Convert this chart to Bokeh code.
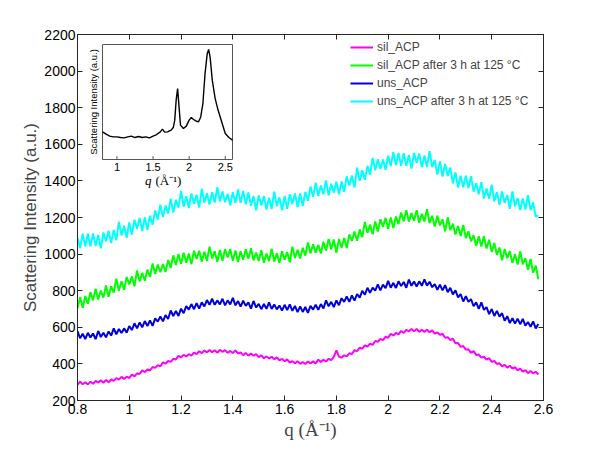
import numpy as np
from bokeh.plotting import figure
from bokeh.models import (Range1d, LinearAxis, FixedTicker, NumeralTickFormatter,
                          Legend, LegendItem, ColumnDataSource)
from bokeh.core.properties import value
from bokeh.embed import file_html
from bokeh.resources import INLINE

# ---------------- data ----------------
q_start = 0.80
q_step = 0.01

sil_acp = [
    285, 303, 289, 300, 288, 303, 291, 307, 298, 310,
    297, 312, 300, 315, 307, 322, 314, 329, 318, 330,
    323, 341, 332, 348, 345, 365, 355, 370, 364, 383,
    378, 393, 386, 409, 401, 416, 411, 428, 424, 444,
    436, 449, 441, 453, 445, 461, 453, 469, 459, 473,
    463, 476, 464, 474, 461, 477, 466, 475, 460, 471,
    459, 474, 457, 463, 448, 460, 445, 457, 445, 453,
    437, 447, 431, 441, 429, 439, 426, 436, 420, 427,
    415, 425, 407, 415, 403, 415, 400, 410, 399, 413,
    403, 414, 403, 423, 411, 422, 413, 428, 420, 438,
    474, 440, 434, 447, 441, 458, 454, 475, 470, 489,
    483, 501, 495, 511, 504, 525, 521, 537, 530, 548,
    543, 565, 555, 569, 561, 580, 569, 586, 578, 591,
    579, 591, 575, 587, 575, 587, 573, 583, 565, 572,
    559, 565, 543, 546, 530, 538, 513, 514, 493, 498,
    478, 480, 460, 470, 449, 451, 434, 439, 423, 431,
    411, 416, 400, 403, 387, 395, 380, 390, 374, 382,
    365, 374, 358, 366, 349, 361, 349, 357, 342,
]

sil_acp_heated = [
    704, 765, 707, 770, 729, 792, 747, 811, 752, 801,
    762, 828, 767, 824, 790, 865, 800, 852, 805, 875,
    834, 878, 824, 911, 852, 898, 854, 915, 875, 949,
    892, 943, 901, 946, 902, 967, 925, 993, 940, 1000,
    947, 1007, 953, 1003, 945, 1018, 974, 1018, 959, 1013,
    963, 1041, 976, 1016, 958, 1023, 964, 1027, 982, 1027,
    964, 1020, 957, 1015, 969, 1027, 975, 1032, 966, 1008,
    962, 1021, 953, 1003, 962, 1030, 959, 1005, 952, 1016,
    969, 1011, 955, 1040, 979, 1023, 976, 1035, 992, 1064,
    1004, 1053, 1008, 1051, 1004, 1067, 1020, 1083, 1025, 1080,
    1007, 1082, 1035, 1088, 1033, 1108, 1072, 1124, 1073, 1135,
    1093, 1176, 1116, 1161, 1108, 1178, 1123, 1190, 1149, 1198,
    1139, 1200, 1142, 1205, 1164, 1227, 1179, 1240, 1178, 1224,
    1182, 1240, 1171, 1220, 1178, 1245, 1169, 1209, 1151, 1209,
    1157, 1190, 1125, 1201, 1131, 1166, 1107, 1154, 1099, 1159,
    1087, 1125, 1070, 1102, 1045, 1097, 1042, 1097, 1031, 1078,
    1012, 1061, 996, 1035, 966, 1028, 978, 1016, 951, 999,
    943, 1015, 944, 978, 914, 973, 899, 937, 862,
]

uns_acp = [
    579, 540, 565, 536, 570, 544, 566, 535, 580, 547,
    570, 545, 577, 555, 594, 562, 591, 569, 594, 571,
    607, 585, 622, 594, 627, 600, 634, 607, 637, 608,
    649, 631, 659, 633, 667, 645, 692, 662, 689, 662,
    702, 677, 716, 697, 727, 699, 732, 702, 736, 714,
    749, 723, 756, 723, 747, 725, 756, 720, 747, 725,
    761, 720, 743, 713, 745, 717, 736, 702, 744, 708,
    728, 699, 727, 701, 736, 700, 725, 698, 719, 691,
    723, 694, 725, 690, 717, 683, 714, 684, 711, 679,
    717, 697, 723, 695, 727, 703, 747, 715, 739, 710,
    747, 721, 759, 739, 768, 739, 774, 746, 782, 762,
    799, 778, 816, 788, 817, 800, 835, 802, 833, 814,
    854, 816, 843, 815, 851, 826, 848, 816, 861, 827,
    850, 823, 851, 827, 862, 828, 849, 819, 836, 805,
    833, 802, 830, 792, 816, 780, 802, 763, 782, 741,
    770, 739, 754, 715, 736, 701, 736, 695, 710, 672,
    700, 662, 690, 658, 677, 636, 661, 623, 650, 620,
    647, 617, 646, 609, 629, 603, 632, 594, 618,
]

uns_acp_heated = [
    1088, 1033, 1111, 1042, 1111, 1042, 1113, 1045, 1104, 1031,
    1118, 1070, 1128, 1061, 1132, 1076, 1176, 1102, 1155, 1089,
    1173, 1106, 1188, 1138, 1198, 1126, 1201, 1132, 1210, 1161,
    1239, 1188, 1270, 1202, 1265, 1222, 1302, 1227, 1296, 1254,
    1345, 1259, 1316, 1252, 1331, 1275, 1324, 1254, 1356, 1280,
    1332, 1271, 1338, 1282, 1365, 1288, 1342, 1283, 1329, 1267,
    1338, 1279, 1353, 1280, 1345, 1272, 1337, 1264, 1317, 1239,
    1320, 1266, 1317, 1244, 1308, 1246, 1341, 1262, 1310, 1239,
    1318, 1248, 1327, 1274, 1331, 1256, 1331, 1262, 1340, 1291,
    1369, 1313, 1390, 1317, 1375, 1327, 1402, 1321, 1384, 1336,
    1395, 1327, 1397, 1341, 1425, 1375, 1429, 1364, 1472, 1401,
    1458, 1406, 1482, 1434, 1526, 1458, 1518, 1465, 1517, 1461,
    1538, 1481, 1557, 1486, 1553, 1482, 1552, 1483, 1541, 1467,
    1553, 1498, 1549, 1475, 1539, 1476, 1563, 1475, 1515, 1435,
    1506, 1424, 1492, 1427, 1473, 1386, 1447, 1364, 1428, 1365,
    1429, 1361, 1426, 1341, 1387, 1327, 1393, 1304, 1359, 1303,
    1380, 1288, 1339, 1269, 1342, 1280, 1323, 1247, 1343, 1261,
    1307, 1241, 1304, 1243, 1322, 1240, 1283, 1205, 1212,
]

inset_q = [0.80, 0.85, 0.90, 0.95, 1.00, 1.05, 1.10, 1.15, 1.20, 1.25,
           1.30, 1.35, 1.40, 1.45, 1.50, 1.55, 1.60, 1.63, 1.66, 1.70,
           1.75, 1.78, 1.80, 1.82, 1.84, 1.86, 1.88, 1.92, 1.96, 2.00,
           2.03, 2.06, 2.10, 2.13, 2.16, 2.19, 2.22, 2.25, 2.27, 2.29,
           2.32, 2.36, 2.40, 2.45, 2.50, 2.55, 2.60]
inset_i = [24.0, 22.0, 20.3, 19.7, 19.7, 19.1, 18.8, 19.7, 20.3, 19.1,
           20.0, 19.1, 19.7, 18.8, 20.3, 21.7, 24.0, 26.4, 23.8, 24.0,
           25.5, 27.8, 34.0, 51.6, 61.7, 45.8, 29.9, 27.0, 29.0, 34.2,
           36.5, 34.8, 33.3, 32.8, 37.0, 48.7, 74.8, 92.0, 95.7, 89.0,
           69.0, 53.0, 43.0, 32.8, 22.6, 19.1, 16.8]

series_values = [sil_acp, sil_acp_heated, uns_acp, uns_acp_heated]
series_labels = ["sil_ACP", "sil_ACP after 3 h at 125 \u00b0C",
                 "uns_ACP", "uns_ACP after 3 h at 125 \u00b0C"]
series_colors = ["#FF00FF", "#00FF00", "#0000DD", "#00FFFF"]

x_ticks = [0.8, 1.0, 1.2, 1.4, 1.6, 1.8, 2.0, 2.2, 2.4, 2.6]
y_ticks = [200, 400, 600, 800, 1000, 1200, 1400, 1600, 1800, 2000, 2200]
inset_ticks = [1.0, 1.5, 2.0, 2.5]
inset_tick_labels = ["1", "1.5", "2", "2.5"]

# ---------------- layout ----------------
W, H = 600, 450
BL, BR, BT, BB = 77, 57, 34, 50
FW, FH = W - BL - BR, H - BT - BB
X0, X1 = 0.8, 2.6
Y0, Y1 = 200, 2200

# inset box, pixels inside the frame (from frame left / frame top)
IL, IR, IT, IB = 25, 155, 10, 125
IX0, IX1 = 0.8, 2.6
IY0, IY1 = 0.0, 100.0

FONT = "Liberation Sans"
SERIF = "Liberation Serif"
AX_COLOR = "#262626"

p = figure(width=W, height=H, output_backend="svg", toolbar_location=None,
           x_range=Range1d(X0, X1), y_range=Range1d(Y0, Y1),
           min_border_left=BL, min_border_right=BR,
           min_border_top=BT, min_border_bottom=BB,
           background_fill_color="white", border_fill_color="white")
p.outline_line_color = AX_COLOR
p.outline_line_width = 1
p.xgrid.visible = False
p.ygrid.visible = False


def style_axis(ax, ticks, show_labels=True):
    ax.ticker = FixedTicker(ticks=ticks)
    ax.major_tick_in = 5
    ax.major_tick_out = 0
    ax.minor_tick_line_color = None
    ax.axis_line_color = AX_COLOR
    ax.major_tick_line_color = AX_COLOR
    ax.major_label_text_font = FONT
    if show_labels:
        ax.major_label_text_font_size = "14px"
        ax.major_label_text_color = "black"
    else:
        ax.major_label_text_font_size = "1px"
        ax.major_label_text_color = None
        ax.major_label_standoff = 0


style_axis(p.xaxis[0], x_ticks)
p.xaxis[0].formatter = NumeralTickFormatter(format="0.[0]")
p.xaxis[0].major_label_standoff = 3
p.xaxis[0].axis_label = "q (\u00c5\u207b\u00b9)"
p.xaxis[0].axis_label_text_font = SERIF
p.xaxis[0].axis_label_text_font_style = "normal"
p.xaxis[0].axis_label_text_font_size = "19px"
p.xaxis[0].axis_label_standoff = 2

style_axis(p.yaxis[0], y_ticks)
p.yaxis[0].major_label_standoff = 2
p.yaxis[0].axis_label = "Scattering Intensity (a.u.)"
p.yaxis[0].axis_label_text_font = FONT
p.yaxis[0].axis_label_text_font_style = "normal"
p.yaxis[0].axis_label_text_font_size = "17px"
p.yaxis[0].axis_label_standoff = 1

top_ax = LinearAxis()
style_axis(top_ax, x_ticks, show_labels=False)
p.add_layout(top_ax, "above")
right_ax = LinearAxis()
style_axis(right_ax, y_ticks, show_labels=False)
p.add_layout(right_ax, "right")

# ---------------- main series ----------------
renderers = []
for vals, color in zip(series_values, series_colors):
    q = np.round(q_start + q_step * np.arange(len(vals)), 2)
    src = ColumnDataSource(dict(q=q, v=np.array(vals, dtype=float)))
    r = p.line("q", "v", source=src, line_color=color, line_width=2.0)
    renderers.append(r)

legend = Legend(items=[LegendItem(label=lab, renderers=[r])
                       for lab, r in zip(series_labels, renderers)],
                location=(273, 290), padding=0, margin=0, spacing=0,
                border_line_color=None, background_fill_alpha=0,
                label_text_font=FONT, label_text_font_size="12px",
                label_height=18, glyph_height=18, glyph_width=23,
                label_standoff=4)
p.add_layout(legend)

# ---------------- inset (own ranges mapped onto a sub-box of the frame) ----------------
kx = (IX1 - IX0) / (IR - IL)
ky = (IY1 - IY0) / (IB - IT)
p.extra_x_ranges = {"ix": Range1d(IX0 - IL * kx, IX1 + (FW - IR) * kx)}
p.extra_y_ranges = {"iy": Range1d(IY0 - (FH - IB) * ky, IY1 + IT * ky)}
ir = dict(x_range_name="ix", y_range_name="iy")

p.quad(left=[IX0], right=[IX1], bottom=[IY0], top=[IY1], fill_color="white",
       line_color="#555555", line_width=1, **ir)
p.line(inset_q, inset_i, line_color="black", line_width=1.4, **ir)

tick_src = ColumnDataSource(dict(x=inset_ticks, y0=[IY0] * 4, y1=[IY0 + 3] * 4,
                                 lab=inset_tick_labels))
p.segment(x0="x", y0="y0", x1="x", y1="y1", source=tick_src,
          line_color="#555555", **ir)
p.text(x="x", y="y0", text="lab", source=tick_src, y_offset=3,
       text_font=value(FONT), text_font_size="11px", text_align="center",
       text_baseline="top", text_color="black", **ir)

p.text(x=[IX0], y=[(IY0 + IY1) / 2], text=["Scattering Intensity (a.u.)"],
       x_offset=-9, angle=np.pi / 2, text_font=value(FONT), text_font_size="9.5px",
       text_align="center", text_baseline="middle", text_color="black", **ir)
p.text(x=[(IX0 + IX1) / 2], y=[IY0], text=["q"], x_offset=-16, y_offset=21,
       text_font=value(SERIF), text_font_style="italic", text_font_size="13px",
       text_align="right", text_baseline="middle", text_color="black", **ir)
p.text(x=[(IX0 + IX1) / 2], y=[IY0], text=["(\u00c5\u207b\u00b9)"], x_offset=-12, y_offset=21,
       text_font=value(SERIF), text_font_size="13px",
       text_align="left", text_baseline="middle", text_color="black", **ir)

open("out.html", "w").write(file_html(p, INLINE))
